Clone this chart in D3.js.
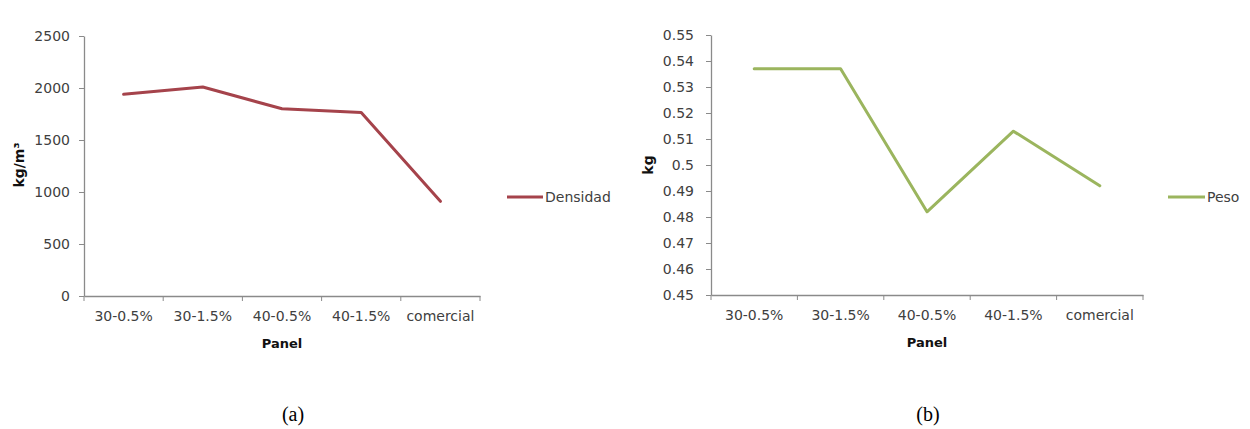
<!DOCTYPE html>
<html>
<head>
<meta charset="utf-8">
<script src="https://cdn.jsdelivr.net/npm/d3@7"></script>
<style>
  html, body { margin: 0; padding: 0; background: #ffffff; }
  svg { display: block; }
  text { font-family: "DejaVu Sans", sans-serif; }
</style>
</head>
<body>
<svg id="chart" width="1250" height="429"></svg>
<script>
// Panel categories shared by both charts
const panels = ["30-0.5%", "30-1.5%", "40-0.5%", "40-1.5%", "comercial"];

// (a) density, kg/m³
const densidad = [1940, 2010, 1800, 1765, 910];
const densidadTicks = [0, 500, 1000, 1500, 2000, 2500];
const densidadTickLabels = ["0", "500", "1000", "1500", "2000", "2500"];

// (b) weight, kg
const peso = [0.537, 0.537, 0.482, 0.513, 0.492];
const pesoTicks = [0.45, 0.46, 0.47, 0.48, 0.49, 0.50, 0.51, 0.52, 0.53, 0.54, 0.55];
const pesoTickLabels = ["0.45", "0.46", "0.47", "0.48", "0.49", "0.5", "0.51", "0.52", "0.53", "0.54", "0.55"];

const svg = d3.select("#chart");
const axisColor = "#8a8a8a";
const labelColor = "#404040";

function drawChart(cfg) {
  const g = svg.append("g");
  const x = d3.scaleBand().domain(panels).range(cfg.xRange);
  const y = d3.scaleLinear().domain(cfg.yDomain).range(cfg.yRange);

  // y axis
  const yAxis = d3.axisLeft(y)
    .tickValues(cfg.yTicks)
    .tickFormat((d, i) => cfg.yTickLabels[i])
    .tickSize(cfg.yTickSize)
    .tickPadding(cfg.yTickPad)
    .tickSizeOuter(0);
  const ya = g.append("g").attr("transform", `translate(${cfg.xRange[0]},0)`).call(yAxis);
  ya.select(".domain").attr("stroke", axisColor).attr("stroke-width", 1.3);
  ya.selectAll(".tick line").attr("stroke", axisColor);
  ya.selectAll(".tick text").attr("fill", labelColor).style("font-size", "14px")
    .style("font-family", "DejaVu Sans, sans-serif");

  // x axis: labels centred in bands, tick marks on band boundaries
  const xAxis = d3.axisBottom(x).tickSize(0).tickPadding(cfg.xLabelPad).tickSizeOuter(0);
  const xa = g.append("g").attr("transform", `translate(0,${cfg.yRange[0]})`).call(xAxis);
  xa.select(".domain").attr("stroke", axisColor).attr("stroke-width", 1.3);
  xa.selectAll(".tick text").attr("fill", labelColor).style("font-size", "14px")
    .style("font-family", "DejaVu Sans, sans-serif");
  const bounds = panels.map(p => x(p)).concat([x.range()[1]]);
  g.append("g").selectAll("line").data(bounds).join("line")
    .attr("x1", d => d).attr("x2", d => d)
    .attr("y1", cfg.yRange[0]).attr("y2", cfg.yRange[0] + 5)
    .attr("stroke", axisColor).attr("stroke-width", 1);

  // series line
  const line = d3.line()
    .x((d, i) => x(panels[i]) + x.bandwidth() / 2)
    .y(d => y(d));
  g.append("path").datum(cfg.values)
    .attr("d", line)
    .attr("fill", "none")
    .attr("stroke", cfg.color)
    .attr("stroke-width", 3)
    .attr("stroke-linejoin", "round")
    .attr("stroke-linecap", "round");

  // axis titles
  g.append("text")
    .attr("x", (cfg.xRange[0] + cfg.xRange[1]) / 2)
    .attr("y", cfg.yRange[0] + 52)
    .attr("text-anchor", "middle")
    .attr("fill", "#111")
    .style("font-size", "13px").style("font-weight", "bold")
    .text("Panel");
  g.append("text")
    .attr("transform", `translate(${cfg.yTitleX},165) rotate(-90)`)
    .attr("text-anchor", "middle")
    .attr("dy", "0.35em")
    .attr("fill", "#111")
    .style("font-size", "14px").style("font-weight", "bold")
    .text(cfg.yTitle);

  // legend
  const lg = g.append("g").attr("transform", `translate(${cfg.legendX},197)`);
  lg.append("line").attr("x1", 0).attr("x2", cfg.legendLen).attr("y1", 0).attr("y2", 0)
    .attr("stroke", cfg.color).attr("stroke-width", 3);
  lg.append("text").attr("x", cfg.legendLen + 2).attr("dy", "0.35em")
    .attr("fill", labelColor).style("font-size", "14px")
    .text(cfg.name);

  // caption
  svg.append("text")
    .attr("x", cfg.captionX).attr("y", 421)
    .attr("text-anchor", "middle")
    .attr("fill", "#000")
    .style("font-family", "Liberation Serif, serif")
    .style("font-size", "20px")
    .text(cfg.caption);
}

drawChart({
  values: densidad, name: "Densidad", color: "#A5434B",
  xRange: [84, 480], yRange: [296, 36], yDomain: [0, 2500],
  yTicks: densidadTicks, yTickLabels: densidadTickLabels,
  yTickSize: 5, yTickPad: 9, xLabelPad: 15,
  yTitle: "kg/m³", yTitleX: 19,
  legendX: 507, legendLen: 36,
  captionX: 293, caption: "(a)"
});

drawChart({
  values: peso, name: "Peso", color: "#9BB55E",
  xRange: [711, 1143], yRange: [295, 35], yDomain: [0.45, 0.55],
  yTicks: pesoTicks, yTickLabels: pesoTickLabels,
  yTickSize: 5, yTickPad: 12, xLabelPad: 15,
  yTitle: "kg", yTitleX: 648,
  legendX: 1168, legendLen: 37,
  captionX: 928, caption: "(b)"
});
</script>
</body>
</html>
